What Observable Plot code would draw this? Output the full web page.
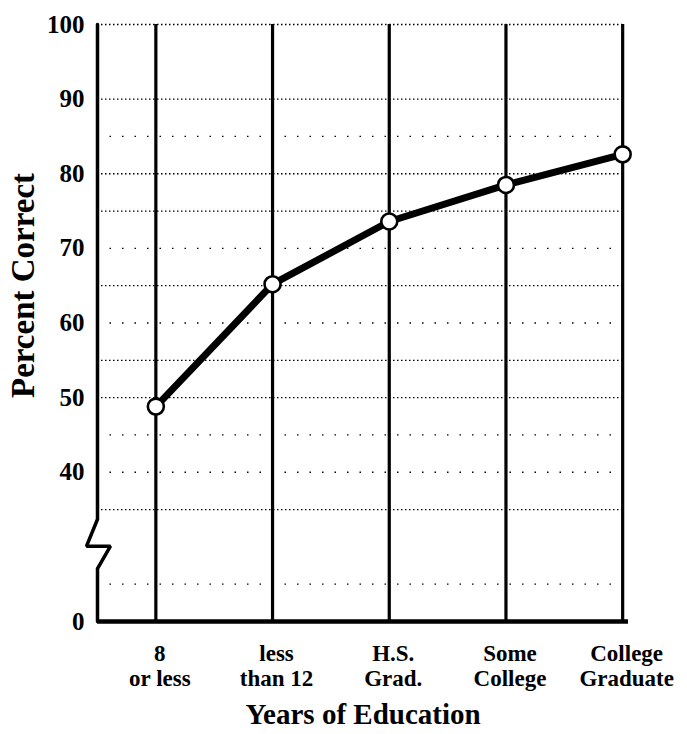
<!DOCTYPE html>
<html><head><meta charset="utf-8">
<script src="https://cdn.jsdelivr.net/npm/d3@7"></script>
<script src="https://cdn.jsdelivr.net/npm/@observablehq/plot@0.6"></script>
<style>html,body{margin:0;padding:0;background:#fff} #chart svg{display:block}</style>
</head><body><div id="chart"></div>
<script>
// ---- data ----
const categories = ["8\nor less", "less\nthan 12", "H.S.\nGrad.", "Some\nCollege", "College\nGraduate"];
const percentCorrect = [48.8, 65.2, 73.6, 78.5, 82.6];
const yTickValues = [20, 40, 50, 60, 70, 80, 90, 100];   // 20 sits where the broken axis shows 0
const yTickLabels = ["0", "40", "50", "60", "70", "80", "90", "100"];
const gridDense = [35, 50, 55, 65, 75, 80, 90, 100];
const gridSparse = [25, 40, 45, 60, 70, 85];
const xDomain = [-0.5, 4.05];
const yDomain = [20, 100];
// y-axis path with the zig-zag break (data units)
const axisPathX = [-0.5, -0.5, -0.594, -0.389, -0.5, -0.5];
const axisPathY = [100, 33.7, 30.1, 30.1, 27.1, 20];
const xTitle = "Years of Education";
const yTitle = "Percent Correct";

const data = categories.map((c, i) => ({i, c, v: percentCorrect[i]}));
const axisPath = axisPathX.map((x, k) => ({x, y: axisPathY[k]}));
const font = "'Liberation Serif', 'Times New Roman', serif";
const ink = "#000";

const chart = Plot.plot({
  width: 687, height: 734,
  marginLeft: 97, marginRight: 59, marginTop: 24, marginBottom: 113,
  style: {fontFamily: font, fontWeight: "bold", color: ink, background: "#fff", overflow: "visible"},
  x: {type: "linear", domain: xDomain, axis: null},
  y: {type: "linear", domain: yDomain, axis: null},
  marks: [
    Plot.ruleY(gridDense, {x1: xDomain[0], x2: categories.length - 1, stroke: ink, strokeWidth: 1.3, strokeDasharray: "1.5,2.5"}),
    Plot.ruleY(gridSparse, {x1: xDomain[0], x2: categories.length - 1, stroke: ink, strokeWidth: 1.3, strokeDasharray: "1.5,11"}),
    Plot.ruleX(data, {x: "i", y1: yDomain[0], y2: yDomain[1], stroke: ink, strokeWidth: 3.2}),
    Plot.line(axisPath, {x: "x", y: "y", stroke: ink, strokeWidth: 3.5, strokeLinejoin: "miter"}),
    Plot.ruleY([yDomain[0]], {x1: xDomain[0], x2: xDomain[1], stroke: ink, strokeWidth: 4.5}),
    Plot.line(data, {x: "i", y: "v", stroke: ink, strokeWidth: 7}),
    Plot.dot(data, {x: "i", y: "v", r: 8, fill: "#fff", stroke: ink, strokeWidth: 2.6}),
    Plot.axisY(yTickValues, {tickSize: 0, tickPadding: 13, fontSize: 25, label: null,
      tickFormat: d => yTickLabels[yTickValues.indexOf(d)]}),
    Plot.axisX(data.map(d => d.i), {tickSize: 0, tickPadding: 22, fontSize: 23, lineHeight: 1.08, label: null, dx: 4,
      tickFormat: i => categories[i]}),
    Plot.text([xTitle], {text: d => d, frameAnchor: "bottom", lineAnchor: "bottom", dy: 102, fontSize: 29}),
    Plot.text([yTitle], {text: d => d, frameAnchor: "left", rotate: -90, lineAnchor: "bottom", dx: -64, dy: 75, fontSize: 33})
  ]
});
document.getElementById("chart").appendChild(chart);
</script>
</body></html>
